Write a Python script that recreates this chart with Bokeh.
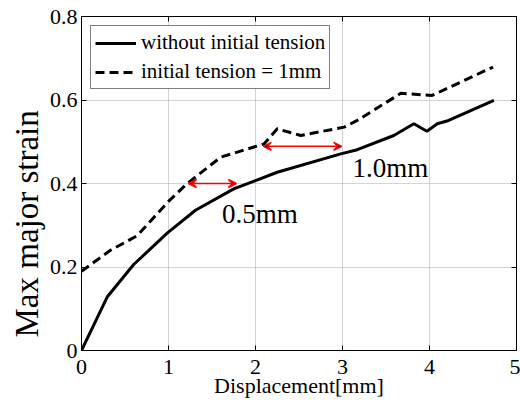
from bokeh.plotting import figure
from bokeh.models import (LinearAxis, FixedTicker, CustomJSTickFormatter, Legend, LegendItem,
                          Arrow, VeeHead, Range1d, Label, Title)
from bokeh.embed import file_html
from bokeh.resources import INLINE

# Data
x_solid = [0.0, 0.295, 0.60, 0.985, 1.31, 1.75, 2.0, 2.25, 2.98, 3.17, 3.59, 3.82, 3.97, 4.09, 4.22, 4.74]
y_solid = [0.0, 0.128, 0.206, 0.281, 0.336, 0.387, 0.407, 0.427, 0.471, 0.481, 0.515, 0.543, 0.525, 0.543, 0.551, 0.599]
x_dash = [0.0, 0.333, 0.64, 1.0, 1.21, 1.60, 2.10, 2.25, 2.52, 3.02, 3.17, 3.67, 4.03, 4.73]
y_dash = [0.19, 0.240, 0.275, 0.357, 0.399, 0.463, 0.495, 0.531, 0.515, 0.535, 0.551, 0.616, 0.611, 0.679]
series_names = ["without initial tension", "initial tension = 1mm"]
x_ticks = [0, 1, 2, 3, 4, 5]
y_ticks = [0, 0.2, 0.4, 0.6, 0.8]
arrow_05 = (1.23, 1.78, 0.40)
arrow_10 = (2.09, 2.99, 0.489)
label_05 = (2.05, 0.328, "0.5mm")
label_10 = (3.55, 0.438, "1.0mm")
y_title = "Max major strain"
x_title = "Displacement[mm]"

FONT = "Liberation Serif"

p = figure(width=520, height=405, output_backend="svg", toolbar_location=None,
           x_range=Range1d(0, 5), y_range=Range1d(0, 0.8),
           min_border_left=81, min_border_right=4, min_border_top=16, min_border_bottom=55)
p.background_fill_color = "white"
p.border_fill_color = "white"
p.outline_line_color = "black"
p.outline_line_width = 1

fmt = CustomJSTickFormatter(code="return tick == 0 ? '0' : (Number.isInteger(tick) ? tick.toString() : tick.toFixed(1));")

for ax in [p.xaxis[0], p.yaxis[0]]:
    ax.major_tick_in = 5
    ax.major_tick_out = 0
    ax.minor_tick_line_color = None
    ax.major_label_text_font = FONT
    ax.major_label_text_font_size = "22px"
    ax.major_label_text_color = "black"
    ax.axis_label_text_font = FONT
    ax.axis_label_text_font_style = "normal"
    ax.axis_label_text_color = "black"
    ax.axis_line_color = "black"
    ax.formatter = fmt

p.xaxis[0].ticker = FixedTicker(ticks=x_ticks)
p.yaxis[0].ticker = FixedTicker(ticks=y_ticks)
p.xaxis[0].axis_label = x_title
p.xaxis[0].axis_label_text_font_size = "22px"
p.xaxis[0].axis_label_standoff = -4
p.xaxis[0].major_label_standoff = 9
p.yaxis[0].major_label_standoff = 4

for loc, ticks in [("right", y_ticks), ("above", x_ticks)]:
    ax = LinearAxis(ticker=FixedTicker(ticks=ticks), major_tick_in=5, major_tick_out=0,
                    minor_tick_line_color=None, major_label_text_font_size="0px",
                    major_label_text_color=None, axis_line_color="black")
    p.add_layout(ax, loc)

p.xgrid.ticker = FixedTicker(ticks=x_ticks)
p.ygrid.ticker = FixedTicker(ticks=y_ticks)
p.grid.grid_line_color = "#a8a8a8"
p.grid.grid_line_width = 1
p.grid.grid_line_dash = "1 1"

r1 = p.line(x_solid, y_solid, line_color="black", line_width=3)
r2 = p.line(x_dash, y_dash, line_color="black", line_width=3, line_dash="9 5")

for (x0, x1, yy) in [arrow_05, arrow_10]:
    p.add_layout(Arrow(start=VeeHead(size=8, line_color="red", line_width=1.5),
                       end=VeeHead(size=8, line_color="red", line_width=1.5),
                       x_start=x0, x_end=x1, y_start=yy, y_end=yy,
                       line_color="red", line_width=1.5))

for (lx, ly, txt) in [label_05, label_10]:
    p.add_layout(Label(x=lx, y=ly, text=txt, text_font=FONT, text_font_size="27px",
                       text_align="center", text_baseline="middle", text_color="black"))

# y-axis title, placed like the original (below the axis centre)
p.add_layout(Title(text=y_title, align="left", offset=13, text_font=FONT,
                   text_font_size="33px", text_font_style="normal", text_color="black",
                   standoff=4), "left")

legend = Legend(items=[LegendItem(label=series_names[0], renderers=[r1]),
                       LegendItem(label=series_names[1], renderers=[r2])],
                location="top_left")
legend.label_text_font = FONT
legend.label_text_font_size = "21px"
legend.label_text_color = "black"
legend.border_line_color = "black"
legend.border_line_width = 1
legend.glyph_width = 41
legend.glyph_height = 24
legend.label_standoff = 5
legend.padding = 4
legend.spacing = 4
legend.margin = 9
legend.label_height = 24
p.add_layout(legend)

open("out.html", "w").write(file_html(p, INLINE))
